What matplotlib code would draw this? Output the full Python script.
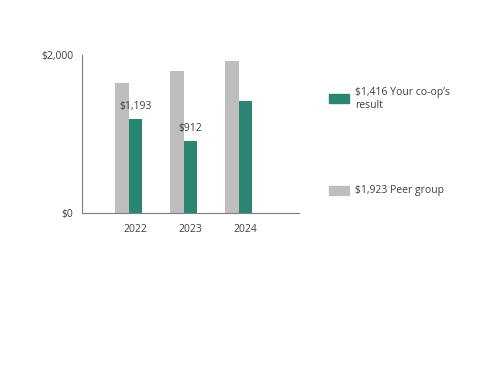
import matplotlib
matplotlib.use('Agg')
import matplotlib.pyplot as plt

years = ['2022', '2023', '2024']
peer_group = [1650, 1800, 1923]
your_coop = [1193, 912, 1416]
labelled = [True, True, False]

GREEN = '#2a8572'
GRAY = '#bebebe'
TEXT = '#404040'

plt.rcParams['font.family'] = ['Open Sans', 'DejaVu Sans']

fig = plt.figure(figsize=(5, 3.83), dpi=100)
ax = fig.add_axes([0.163, 0.443, 0.435, 0.413])

width = 0.245
x = list(range(len(years)))
ax.bar([i - width / 2 for i in x], peer_group, width=width, color=GRAY)
green_bars = ax.bar([i + width / 2 for i in x], your_coop, width=width, color=GREEN)

for bar, val, show in zip(green_bars, your_coop, labelled):
    if show:
        ax.annotate('${:,}'.format(val),
                    (bar.get_x() + bar.get_width() / 2, val),
                    xytext=(0, 5), textcoords='offset points',
                    ha='center', va='bottom', fontsize=7.5, color=TEXT)

ax.set_xlim(-0.86, 3.09)
ax.set_ylim(0, 2000)
ax.set_yticks([0, 2000])
ax.set_yticklabels(['$0', '$2,000'])
ax.set_xticks([i + width / 2 for i in x])
ax.set_xticklabels(years)
ax.tick_params(length=0, labelsize=7.5, labelcolor=TEXT)
ax.tick_params(axis='x', pad=8)
ax.tick_params(axis='y', pad=6)

for side in ['top', 'right']:
    ax.spines[side].set_visible(False)
for side in ['left', 'bottom']:
    ax.spines[side].set_color('#7f7f7f')
    ax.spines[side].set_linewidth(0.8)

# legend drawn by hand to match the spacing
fig.patches.append(plt.Rectangle((329 / 500, 1 - 103 / 383), 20 / 500, 9 / 383,
                                 transform=fig.transFigure, color=GREEN))
fig.text(355 / 500, 1 - 99 / 383, '${:,} Your co-op\u2019s\nresult'.format(your_coop[-1]),
         fontsize=7.5, color=TEXT, va='center', ha='left', linespacing=1.35)
fig.patches.append(plt.Rectangle((329 / 500, 1 - 195 / 383), 20 / 500, 9 / 383,
                                 transform=fig.transFigure, color=GRAY))
fig.text(355 / 500, 1 - 190 / 383, '${:,} Peer group'.format(peer_group[-1]),
         fontsize=7.5, color=TEXT, va='center', ha='left')

fig.savefig('out.png', dpi=100)
